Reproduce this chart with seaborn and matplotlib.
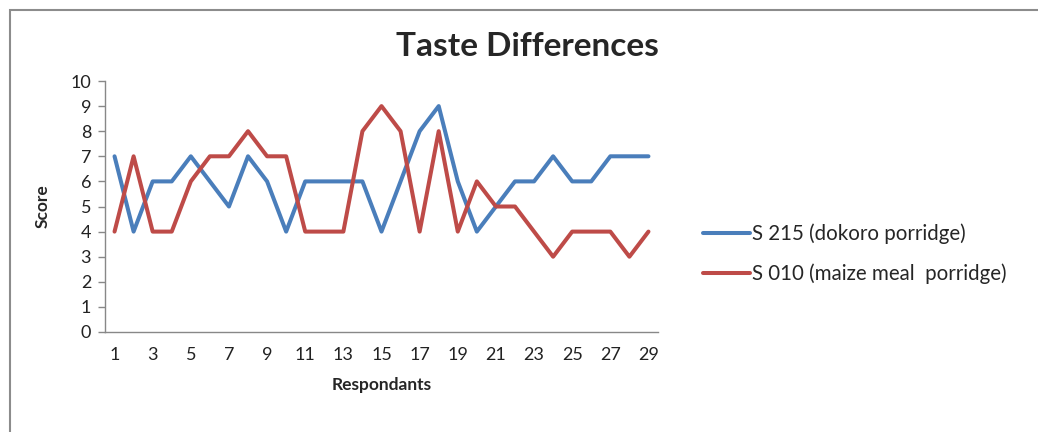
# taste scores per respondent, two porridge samples

import matplotlib.pyplot as plt
from matplotlib.patches import Rectangle
import seaborn as sns
import pandas as pd

respondents = list(range(1, 30))
s215 = [7, 4, 6, 6, 7, 6, 5, 7, 6, 4, 6, 6, 6, 6, 4, 6, 8, 9, 6, 4, 5, 6, 6, 7, 6, 6, 7, 7, 7]
s010 = [4, 7, 4, 4, 6, 7, 7, 8, 7, 7, 4, 4, 4, 8, 9, 8, 4, 8, 4, 6, 5, 5, 4, 3, 4, 4, 4, 3, 4]
series_names = ["S 215 (dokoro porridge)", "S 010 (maize meal  porridge)"]
colors = ["#4A7EBB", "#BE4B48"]


def build_df():
    frames = []
    for name, vals in zip(series_names, [s215, s010]):
        frames.append(pd.DataFrame({"Respondants": respondents, "Score": vals, "series": name}))
    return pd.concat(frames, ignore_index=True)


def main():
    sns.set_theme(style="white")
    plt.rcParams["font.family"] = ["Lato", "DejaVu Sans"]

    df = build_df()
    fig = plt.figure(figsize=(10.38, 4.32), dpi=100)
    ax = fig.add_axes([105 / 1038, 1 - 332 / 432, 553 / 1038, 251 / 432])

    sns.lineplot(data=df, x="Respondants", y="Score", hue="series",
                 palette=colors, linewidth=2.9, ax=ax)

    ax.set_xlim(0.5, 29.5)
    ax.set_ylim(0, 10)
    ax.set_yticks(range(0, 11))
    ax.set_xticks([r for r in respondents if r % 2 == 1])
    ax.set_xticks([r + 0.5 for r in range(0, 30)], minor=True)
    ax.tick_params(axis="x", which="major", length=0, pad=11, labelsize=13, colors="#222222")
    ax.tick_params(axis="x", which="minor", length=5, width=1, color="#888888", direction="out")
    ax.tick_params(axis="y", length=5, width=1, color="#888888", direction="out",
                   left=True, pad=5, labelsize=13, labelcolor="#222222")
    ax.xaxis.set_tick_params(bottom=True)

    for side in ["top", "right"]:
        ax.spines[side].set_visible(False)
    for side in ["left", "bottom"]:
        ax.spines[side].set_color("#888888")
        ax.spines[side].set_linewidth(1)

    ax.set_xlabel("Respondants", fontsize=12.5, fontweight="bold", labelpad=10)
    ax.set_ylabel("Score", fontsize=12.5, fontweight="bold", labelpad=14)

    fig.text(527 / 1038, 1 - 47 / 432, "Taste Differences", fontsize=24,
             fontweight="bold", ha="center", va="center")

    handles, labels = ax.get_legend_handles_labels()
    ax.legend(handles, labels, loc="center left", bbox_to_anchor=(684 / 1038, 1 - 254 / 432),
              bbox_transform=fig.transFigure, frameon=False, fontsize=14.8,
              handlelength=2.3, handletextpad=0.1, labelspacing=0.95)

    fig.patches.append(Rectangle((10 / 1038, -0.1), 1.2, 1 - 10 / 432 + 0.1,
                                 transform=fig.transFigure, fill=False,
                                 edgecolor="#8c8c8c", linewidth=1.5))

    plt.savefig("out.png", dpi=100)
    plt.close()


if __name__ == "__main__":
    main()
